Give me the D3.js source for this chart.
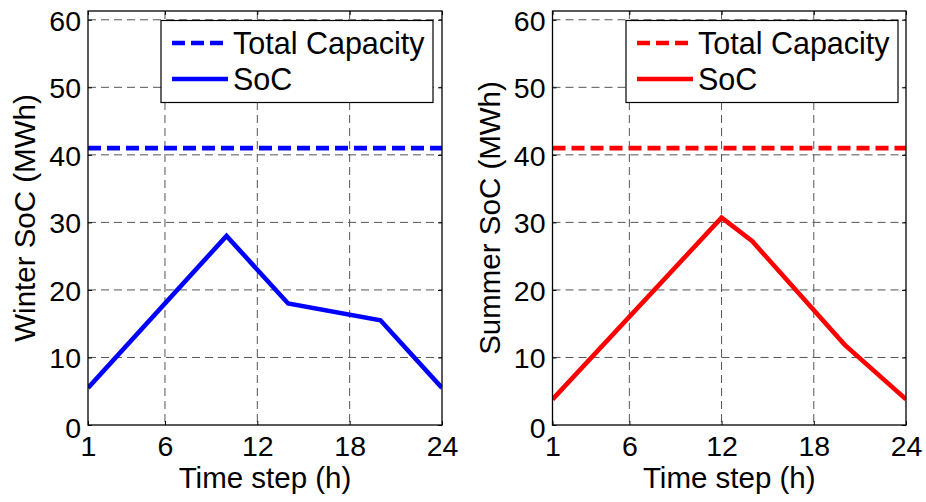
<!DOCTYPE html>
<html>
<head>
<meta charset="utf-8">
<script src="https://cdn.jsdelivr.net/npm/d3@7"></script>
<style>
  body { margin: 0; background: #fff; }
  text { font-family: "Liberation Sans", Arial, sans-serif; fill: #000; }
</style>
</head>
<body>
<script>
let width = 926,
    height = 502;

// breakpoints of the piecewise-linear SoC curves
let winterHours = [1, 10, 14, 20, 24];
let winterSoC   = [5.5, 28, 18, 15.5, 5.5];
let summerHours = [1, 12, 14, 20, 24];
let summerSoC   = [3.8, 30.7, 27.2, 11.9, 3.8];
let totalCapacity = 41;

let xTicks = [1, 6, 12, 18, 24];
let yTicks = [0, 10, 20, 30, 40, 50, 60];
let legendLabels = ["Total Capacity", "SoC"];

let panels = [
  {id: "w", hours: winterHours, soc: winterSoC, color: "#0000ff", ylabel: "Winter SoC (MWh)",
   left: 88, right: 442, ylabelX: 35, legendLeft: 161, legendRight: 433},
  {id: "s", hours: summerHours, soc: summerSoC, color: "#ff0000", ylabel: "Summer SoC (MWh)",
   left: 552.5, right: 906, ylabelX: 500, legendLeft: 626, legendRight: 898}
];

let plotTop = 11, plotBottom = 425;

let svg = d3.select("body")
            .append("svg")
            .attr("width", width)
            .attr("height", height);

panels.forEach(function(p) {
  let xScale = d3.scaleLinear().domain([1, 24]).range([p.left, p.right]);
  let yScale = d3.scaleLinear().domain([0, 61.3]).range([plotBottom, plotTop]);

  let g = svg.append("g");

  g.append("clipPath")
   .attr("id", "clip-" + p.id)
   .append("rect")
   .attr("x", p.left).attr("y", plotTop)
   .attr("width", p.right - p.left).attr("height", plotBottom - plotTop);

  // grid
  g.selectAll(".vgrid")
   .data(xTicks.slice(1, -1))
   .enter().append("line")
   .attr("x1", d => xScale(d)).attr("x2", d => xScale(d))
   .attr("y1", plotTop).attr("y2", plotBottom)
   .attr("stroke", "#555").attr("stroke-width", 1)
   .attr("stroke-dasharray", "8,5");

  g.selectAll(".hgrid")
   .data(yTicks.slice(1))
   .enter().append("line")
   .attr("x1", p.left).attr("x2", p.right)
   .attr("y1", d => yScale(d)).attr("y2", d => yScale(d))
   .attr("stroke", "#555").attr("stroke-width", 1)
   .attr("stroke-dasharray", "8,5");

  // lines
  let plot = g.append("g").attr("clip-path", "url(#clip-" + p.id + ")");

  plot.append("line")
      .attr("x1", xScale(1)).attr("x2", xScale(24))
      .attr("y1", yScale(totalCapacity)).attr("y2", yScale(totalCapacity))
      .attr("stroke", p.color).attr("stroke-width", 4.6)
      .attr("stroke-dasharray", "13,6");

  let line = d3.line()
               .x((d, i) => xScale(p.hours[i]))
               .y(d => yScale(d));

  plot.append("path")
      .datum(p.soc)
      .attr("d", line)
      .attr("fill", "none")
      .attr("stroke", p.color)
      .attr("stroke-width", 4.6)
      .attr("stroke-linejoin", "miter");

  // axes (ticks inside, like the original)
  let xAxis = d3.axisBottom(xScale).tickValues(xTicks).tickSize(-4).tickPadding(8).tickSizeOuter(0);
  let yAxis = d3.axisLeft(yScale).tickValues(yTicks).tickSize(-4).tickPadding(7).tickSizeOuter(0);

  let gx = g.append("g")
            .attr("transform", "translate(0," + plotBottom + ")")
            .call(xAxis);
  gx.selectAll("text").style("font-size", "28.5px").attr("dy", "0.71em").attr("y", 11);

  let gy = g.append("g")
            .attr("transform", "translate(" + p.left + ",0)")
            .call(yAxis);
  gy.selectAll("text").style("font-size", "28.5px").attr("dy", "0.36em");
  gy.selectAll(".tick").filter(d => d === 0).select("text").attr("y", 2);

  // top/right ticks
  g.append("g")
   .attr("transform", "translate(0," + plotTop + ")")
   .call(d3.axisTop(xScale).tickValues(xTicks).tickSize(-4).tickFormat("").tickSizeOuter(0));
  g.append("g")
   .attr("transform", "translate(" + p.right + ",0)")
   .call(d3.axisRight(yScale).tickValues(yTicks).tickSize(-4).tickFormat("").tickSizeOuter(0));

  g.selectAll(".domain").remove();

  // box
  g.append("rect")
   .attr("x", p.left).attr("y", plotTop)
   .attr("width", p.right - p.left).attr("height", plotBottom - plotTop)
   .attr("fill", "none").attr("stroke", "#000").attr("stroke-width", 1.3);

  // labels
  g.append("text")
   .attr("x", (p.left + p.right) / 2).attr("y", 488)
   .attr("text-anchor", "middle")
   .style("font-size", "29.5px")
   .text("Time step (h)");

  g.append("text")
   .attr("transform", "translate(" + p.ylabelX + "," + ((plotTop + plotBottom) / 2) + ") rotate(-90)")
   .attr("text-anchor", "middle")
   .style("font-size", "29.5px")
   .text(p.ylabel);

  // legend
  let lg = g.append("g");
  lg.append("rect")
    .attr("x", p.legendLeft).attr("y", 20.5)
    .attr("width", p.legendRight - p.legendLeft).attr("height", 82)
    .attr("fill", "#fff").attr("stroke", "#000").attr("stroke-width", 1.2);

  let rows = [43, 79];
  legendLabels.forEach(function(label, i) {
    lg.append("line")
      .attr("x1", p.legendLeft + 11).attr("x2", p.legendLeft + 67)
      .attr("y1", rows[i]).attr("y2", rows[i])
      .attr("stroke", p.color).attr("stroke-width", 4.6)
      .attr("stroke-dasharray", i === 0 ? "13,6" : null);
    lg.append("text")
      .attr("x", p.legendLeft + 72).attr("y", rows[i])
      .attr("dy", "0.36em")
      .style("font-size", "30.5px")
      .text(label);
  });
});
</script>
</body>
</html>
